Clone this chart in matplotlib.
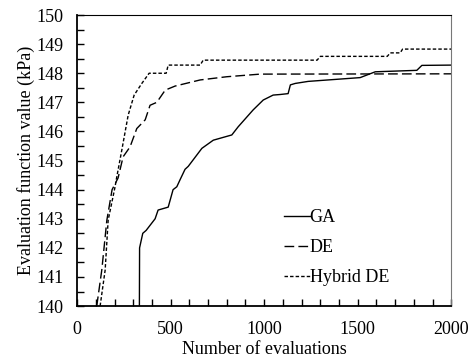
import matplotlib.pyplot as plt
from matplotlib.ticker import MultipleLocator

plt.rcParams['font.family'] = ['Liberation Serif', 'DejaVu Serif']

# GA
ga_x = [333, 334, 351, 369, 417, 433, 487, 513, 533, 551, 577, 594, 667, 728, 827, 861,
        941, 995, 1048, 1086, 1128, 1140, 1166, 1235, 1513, 1594, 1816, 1843, 2000]
ga_y = [140.0, 142.0, 142.5, 142.6, 143.0, 143.3, 143.4, 144.0, 144.1, 144.35, 144.7, 144.8,
        145.42, 145.7, 145.88, 146.16, 146.74, 147.08, 147.25, 147.27, 147.3, 147.6, 147.65,
        147.72, 147.85, 148.05, 148.1, 148.27, 148.28]

# DE
de_x = [105, 132, 159, 187, 219, 246, 283, 319, 364, 390, 426, 471, 524, 658, 800, 979, 2000]
de_y = [140.0, 141.24, 142.95, 144.0, 144.4, 145.13, 145.47, 146.1, 146.4, 146.9, 147.0,
        147.42, 147.56, 147.77, 147.88, 147.97, 147.98]

# Hybrid DE
hy_x = [123, 150, 166, 203, 209, 239, 273, 305, 346, 385, 476, 487, 658, 674, 1283, 1300,
        1658, 1674, 1727, 1740, 2000]
hy_y = [140.0, 141.24, 142.95, 144.1, 144.33, 145.36, 146.56, 147.25, 147.65, 148.0, 148.0,
        148.28, 148.28, 148.45, 148.45, 148.58, 148.58, 148.7, 148.7, 148.83, 148.83]

fig = plt.figure(figsize=(4.73, 3.58), dpi=100)
ax = fig.add_axes([0.163, 0.145, 0.791, 0.813])

ax.plot(ga_x, ga_y, color='black', lw=1.0, ls='-', label='GA')
ax.plot(de_x, de_y, color='black', lw=1.0, ls=(0, (7, 3)), label='DE')
ax.plot(hy_x, hy_y, color='black', lw=1.0, ls=(0, (2.5, 1.5)), label='Hybrid DE')

ax.set_xlim(0, 2000)
ax.set_ylim(140, 150)
ax.xaxis.set_major_locator(MultipleLocator(500))
ax.xaxis.set_minor_locator(MultipleLocator(100))
ax.yaxis.set_major_locator(MultipleLocator(1))
ax.yaxis.set_minor_locator(MultipleLocator(0.5))
ax.tick_params(which='both', direction='in', top=False, right=False, labelsize=13)
ax.tick_params(which='major', length=5, width=1)
ax.tick_params(which='minor', length=5, width=1)
ax.tick_params(axis='y', pad=10)
ax.tick_params(axis='x', pad=11)
for s in ['left', 'bottom']:
    ax.spines[s].set_linewidth(1.3)
ax.spines['right'].set_color('#777777')

ax.set_xlabel('Number of evaluations', fontsize=13, labelpad=2)
ax.set_ylabel('Evaluation function value (kPa)', fontsize=13, labelpad=1)

ax.legend(loc='lower right', bbox_to_anchor=(0.877, 0.013), frameon=False, fontsize=13,
          handlelength=1.4, handletextpad=0.0, labelspacing=0.72)

fig.savefig('out.png', dpi=100)
